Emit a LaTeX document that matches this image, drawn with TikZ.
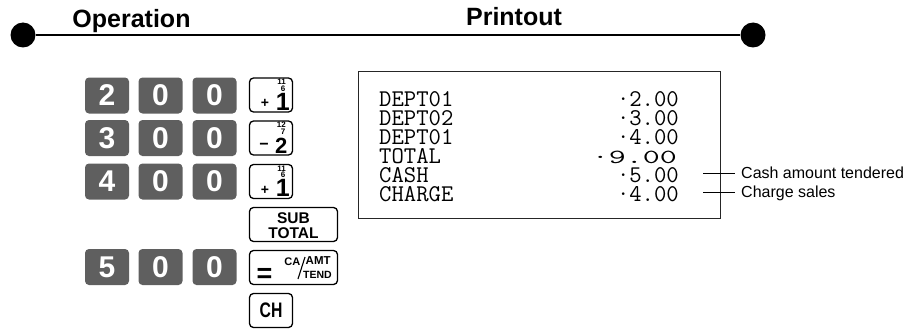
\documentclass[tikz,border=0pt]{standalone}
\usepackage{fontspec}
\usepackage{graphicx}
\setmainfont{Liberation Sans}
\usetikzlibrary{calc}
\definecolor{keygray}{RGB}{95,95,95}
\newcommand\fs[1]{\fontsize{#1}{#1}\selectfont}
\newcommand\rcfont{\ttfamily\fs{24}}
\tikzset{
  dkey/.style={fill=keygray, rounded corners=4pt, minimum width=44pt, minimum height=36pt, inner sep=0pt, text=white, font=\bfseries\fs{30}},
  fkey/.style={draw, line width=1.3pt, rounded corners=4pt, minimum width=43pt, minimum height=34pt, inner sep=0pt},
  wkey/.style={fkey, minimum width=88pt},
  lbl/.style={inner sep=0pt, font=\bfseries\fs{#1}},
  rc/.style={inner sep=0pt, font=\rcfont},
  note/.style={inner sep=0pt, font=\fs{16}, anchor=base west},
  hdot/.style={circle, fill=black, minimum size=25pt, inner sep=0pt},
}
\begin{document}
\begin{tikzpicture}[x=1pt,y=-1pt]
\useasboundingbox (0,0) rectangle (912,329);
% header
\node[hdot] (dotl) at (23,35) {};
\node[hdot] (dotr) at (753,35) {};
\draw[line width=1.5pt] (dotl) -- (dotr);
\node[lbl=25, anchor=base] (hop) at (131.5,28) {Operation};
\node[lbl=25, anchor=base] (hpr) at (514,25.5) {Printout};
% digit keys
\node[dkey] (d11) at (107,95.5) {2};
\node[dkey] (d12) at (160.5,95.5) {0};
\node[dkey] (d13) at (214.5,95.5) {0};
\node[dkey] (d21) at (107,138) {3};
\node[dkey] (d22) at (160.5,138) {0};
\node[dkey] (d23) at (214.5,138) {0};
\node[dkey] (d31) at (107,181.5) {4};
\node[dkey] (d32) at (160.5,181.5) {0};
\node[dkey] (d33) at (214.5,181.5) {0};
\node[dkey] (d51) at (107,267) {5};
\node[dkey] (d52) at (160.5,267) {0};
\node[dkey] (d53) at (214.5,267) {0};
% function keys
\node[fkey] (k1) at (271,95) {};
\node[fkey] (k2) at (271,138) {};
\node[fkey] (k3) at (271,181.5) {};
\node[wkey] (k4) at (293.5,224.5) {};
\node[wkey] (k5) at (293.5,267.5) {};
\node[fkey,font=\bfseries\fs{21}] (k6) at (271,310.5) {\scalebox{0.75}[1]{CH}};
% +1 key
\node[lbl=8, anchor=base east] (k1a) at ($(k1.center)+(15,-10.5)$) {11};
\node[lbl=8, anchor=base east] (k1b) at ($(k1.center)+(14.5,-4)$) {6};
\node[lbl=25, anchor=base east] (k1c) at ($(k1.center)+(19,15)$) {1};
\node[lbl=14] (k1d) at ($(k1.center)+(-6,8.5)$) {+};
% -2 key
\node[lbl=8, anchor=base east] (k2a) at ($(k2.center)+(15,-10.5)$) {12};
\node[lbl=8, anchor=base east] (k2b) at ($(k2.center)+(14.5,-4)$) {7};
\node[lbl=22, anchor=base east] (k2c) at ($(k2.center)+(16.5,15)$) {2};
\node[lbl=16] (k2d) at ($(k2.center)+(-7,8)$) {−};
% +1 key
\node[lbl=8, anchor=base east] (k3a) at ($(k3.center)+(15,-10.5)$) {11};
\node[lbl=8, anchor=base east] (k3b) at ($(k3.center)+(14.5,-4)$) {6};
\node[lbl=25, anchor=base east] (k3c) at ($(k3.center)+(19,15)$) {1};
\node[lbl=14] (k3d) at ($(k3.center)+(-6,8.5)$) {+};
% SUB TOTAL
\node[lbl=15.5, anchor=base] (k4a) at ($(k4.center)+(0,-1.5)$) {SUB};
\node[lbl=15.5, anchor=base] (k4b) at ($(k4.center)+(0,13.5)$) {TOTAL};
% = CA/AMT TEND
\node[lbl=27] (k5a) at ($(k5.center)+(-29,8)$) {=};
\node[lbl=11, anchor=base east] (k5b) at ($(k5.center)+(7,-2.5)$) {CA};
\coordinate (s1) at ($(k5.center)+(11.5,-10.5)$);
\coordinate (s2) at ($(k5.center)+(4.5,11.5)$);
\draw[line width=1.1pt] (s1) -- (s2);
\node[lbl=11.5, anchor=base west] (k5c) at ($(k5.center)+(12,-3.5)$) {AMT};
\node[lbl=10.5, anchor=base west] (k5d) at ($(k5.center)+(9.5,10.5)$) {TEND};
% printout
\node[draw=black!85, line width=1.2pt, minimum width=362pt, minimum height=147pt, inner sep=0pt, anchor=north west] (box) at (358,71) {};
\node[rc, anchor=base west] (r1) at (379,106.7) {DEPT01};
\node[rc, anchor=base west] (r2) at (379,125.6) {DEPT02};
\node[rc, anchor=base west] (r3) at (379,144.4) {DEPT01};
\node[rc, anchor=base west] (r4) at (379,163.3) {TOTAL};
\node[rc, anchor=base west] (r5) at (379,182.1) {CASH};
\node[rc, anchor=base west] (r6) at (379,201.0) {CHARGE};
\node[rc, anchor=base east] (v1) at (679,106.7) {·2.00};
\node[rc, anchor=base east] (v2) at (679,125.6) {·3.00};
\node[rc, anchor=base east] (v3) at (679,144.4) {·4.00};
\node[inner sep=0pt, anchor=base east, font=\ttfamily\fs{20}] (v4) at (677,163.3) {\scalebox{1.65}[1]{·9.00}};
\node[rc, anchor=base east] (v5) at (679,182.1) {·5.00};
\node[rc, anchor=base east] (v6) at (679,201.0) {·4.00};
% annotations
\coordinate (ta) at (703,173);
\coordinate (tb) at (735,173);
\coordinate (tc) at (703,192);
\coordinate (td) at (735,192);
\draw[line width=1pt] (ta) -- (tb);
\draw[line width=1pt] (tc) -- (td);
\node[note] (n1) at (741,178.5) {Cash amount tendered};
\node[note] (n2) at (741,197.5) {Charge sales};
\end{tikzpicture}
\end{document}
